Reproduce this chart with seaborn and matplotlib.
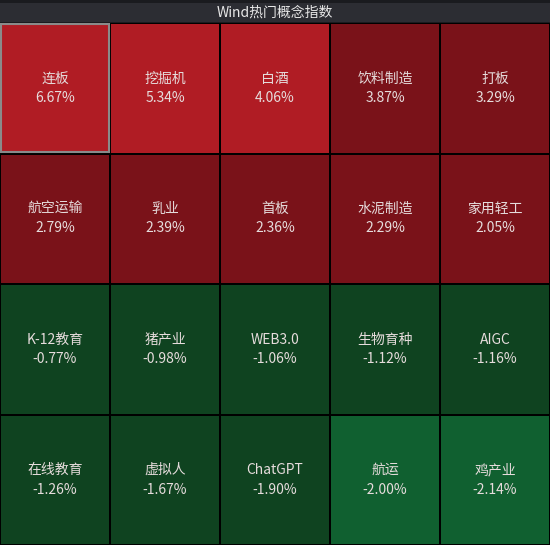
import numpy as np
import matplotlib
matplotlib.use("Agg")
import matplotlib.pyplot as plt
from matplotlib.colors import ListedColormap
import seaborn as sns

names = ["连板","挖掘机","白酒","饮料制造","打板",
         "航空运输","乳业","首板","水泥制造","家用轻工",
         "K-12教育","猪产业","WEB3.0","生物育种","AIGC",
         "在线教育","虚拟人","ChatGPT","航运","鸡产业"]
values = [6.67,5.34,4.06,3.87,3.29,
          2.79,2.39,2.36,2.29,2.05,
          -0.77,-0.98,-1.06,-1.12,-1.16,
          -1.26,-1.67,-1.90,-2.00,-2.14]
levels = [0,0,0,1,1, 1,1,1,1,1, 2,2,2,2,2, 2,2,2,3,3]

plt.rcParams['font.family'] = ['Noto Sans CJK SC', 'DejaVu Sans']
fig = plt.figure(figsize=(5.5,5.45), dpi=100, facecolor="#1a1b1f")
# title bar
tax = fig.add_axes([0, 1-22/545, 1, 19/545])
tax.set_facecolor("#2c2d33"); tax.set_xticks([]); tax.set_yticks([])
for s in tax.spines.values(): s.set_visible(False)
tax.text(0.5, 0.5, "Wind热门概念指数", color="#e8e8e8", fontsize=10, ha="center", va="center", transform=tax.transAxes)

ax = fig.add_axes([0, 0, 1, 1-23/545])
lev = np.array(levels).reshape(4,5)
ann = np.array([f"{n}\n{v:.2f}%" for n,v in zip(names,values)]).reshape(4,5)
cmap = ListedColormap(["#b01c24","#7a1219","#0f4320","#106030"])
sns.heatmap(lev, ax=ax, cmap=cmap, vmin=-0.5, vmax=3.5, cbar=False,
            annot=ann, fmt="", linewidths=1.2, linecolor="black",
            annot_kws=dict(color="#e6dcdc", fontsize=10, linespacing=1.5))
ax.set_xticks([]); ax.set_yticks([])
ax.add_patch(plt.Rectangle((0.01,0.01),0.98,0.98, fill=False, edgecolor="#8a8a8a", lw=1.5))
fig.savefig("out.png", dpi=100, facecolor=fig.get_facecolor())
